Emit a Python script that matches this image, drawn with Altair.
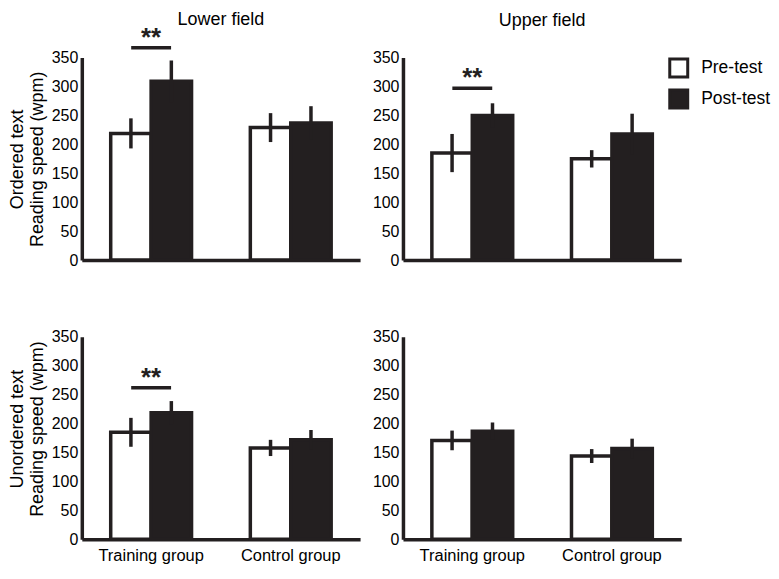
import altair as alt
import pandas as pd

INK = "#231f20"
FONT = "Liberation Sans"

groups = ["Training group", "Control group"]
phases = ["Pre-test", "Post-test"]

# order of values in each list: Training Pre, Training Post, Control Pre, Control Post
ordered_lower_mean = [219, 309, 229, 237]
ordered_lower_err = [26, 36, 25, 29]
ordered_upper_mean = [185, 250, 175, 218]
ordered_upper_err = [33, 21, 15, 35]
unordered_lower_mean = [185, 219, 158, 172]
unordered_lower_err = [25, 20, 14, 17]
unordered_upper_mean = [171, 187, 144, 157]
unordered_upper_err = [17, 15, 12, 17]

# level of the significance bracket (Training group, Pre vs Post), wpm
ordered_lower_sig = [367]
ordered_upper_sig = [297]
unordered_lower_sig = [262]

y_ticks = [0, 50, 100, 150, 200, 250, 300, 350]

PW, PH = 279, 203

legend = alt.Legend(
    title=None, orient="none", legendX=588, legendY=0,
    symbolType="square", symbolSize=324, symbolStrokeColor=INK,
    symbolStrokeWidth=3, labelFontSize=17.5, labelOffset=12, rowPadding=0,
    labelFont=FONT, labelColor="black",
)


def panel(means, errs, sig=None, title=None, title_offset=0, ytitle=None,
          ytitle_y=None, xlabels=False):
    df = pd.DataFrame({
        "group": [g for g in groups for p in phases],
        "phase": [p for g in groups for p in phases],
        "mean": means,
        "err": errs,
    })
    df["lo"] = df["mean"] - df["err"]
    df["hi"] = df["mean"] + df["err"]

    x = alt.X("group:N", sort=groups,
              scale=alt.Scale(domain=groups, paddingInner=0.421, paddingOuter=0.207),
              axis=alt.Axis(title=None, labels=xlabels, ticks=False, domainWidth=3.5,
                            domainColor=INK, labelFontSize=16.5, labelPadding=8,
                            labelAngle=0, labelColor="black", labelFont=FONT))
    xo = alt.XOffset("phase:N", sort=phases,
                     scale=alt.Scale(domain=phases, paddingInner=0, paddingOuter=0))
    yaxis_kw = dict(values=y_ticks, grid=False, ticks=False, domainWidth=3.5,
                    domainColor=INK, labelFontSize=16, labelPadding=4,
                    labelColor="black", labelFont=FONT, labelOverlap=False)
    if ytitle:
        yaxis_kw.update(title=ytitle, titleFontSize=18, titleFontWeight="normal",
                        titleLineHeight=20, titlePadding=5, titleColor="black",
                        titleFont=FONT)
        if ytitle_y is not None:
            yaxis_kw.update(titleY=ytitle_y)
    else:
        yaxis_kw.update(title=None)
    yaxis = alt.Axis(**yaxis_kw)
    yscale = alt.Scale(domain=[0, 350], nice=False)

    bars = alt.Chart(df).mark_bar(stroke=INK, strokeWidth=3.5).encode(
        x=x, xOffset=xo,
        y=alt.Y("mean:Q", stack=None, scale=yscale, axis=yaxis),
        fill=alt.Fill("phase:N", sort=phases,
                      scale=alt.Scale(domain=phases, range=["white", INK]),
                      legend=legend),
    )
    errbars = alt.Chart(df).mark_rule(strokeWidth=3.5, color=INK).encode(
        x=x, xOffset=xo, y=alt.Y("lo:Q", scale=yscale, axis=yaxis), y2="hi:Q",
    )
    layers = [bars, errbars]
    if sig:
        sdf = pd.DataFrame({"group": [groups[0]] * len(sig), "level": sig})
        line = alt.Chart(sdf).mark_tick(size=40, thickness=3.5, color=INK, opacity=1,
                                        orient="horizontal").encode(
            x=x, y=alt.Y("level:Q", scale=yscale, axis=yaxis))
        stars = alt.Chart(sdf).mark_text(text="**", fontSize=26, fontWeight="bold",
                                         baseline="alphabetic", dy=-2, color=INK,
                                         font=FONT).encode(
            x=x, y=alt.Y("level:Q", scale=yscale, axis=yaxis))
        layers += [line, stars]
    ch = alt.layer(*layers).properties(width=PW, height=PH)
    if title:
        ch = ch.properties(title=alt.TitleParams(text=title, fontSize=18,
                                                 fontWeight="normal", color="black",
                                                 font=FONT, offset=title_offset,
                                                 anchor="middle"))
    return ch


p1 = panel(ordered_lower_mean, ordered_lower_err, ordered_lower_sig,
           title="Lower field", title_offset=-4,
           ytitle=["Ordered text", "Reading speed (wpm)"])
p2 = panel(ordered_upper_mean, ordered_upper_err, ordered_upper_sig,
           title="Upper field", title_offset=20)
p3 = panel(unordered_lower_mean, unordered_lower_err, unordered_lower_sig,
           ytitle=["Unordered text", "Reading speed (wpm)"], ytitle_y=92,
           xlabels=True)
p4 = panel(unordered_upper_mean, unordered_upper_err, None, xlabels=True)

chart = alt.concat(p1, p2, p3, p4, columns=2,
                   spacing=alt.RowColnumber(row=61, column=12)).properties(
    padding={"top": 2, "left": 0, "right": 0, "bottom": 0}
).configure(font=FONT).configure_view(stroke=None)

chart.save("out.html", embed_options={"renderer": "svg", "actions": False})
